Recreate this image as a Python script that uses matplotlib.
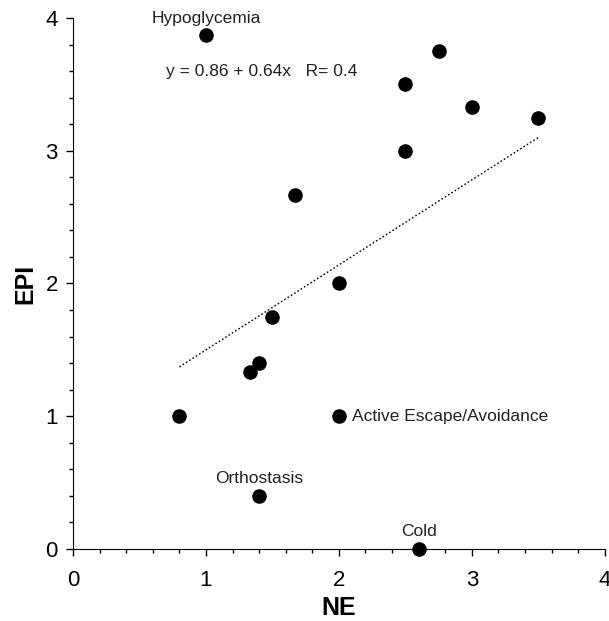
import numpy as np
import matplotlib.pyplot as plt
from matplotlib.ticker import MultipleLocator

plt.rcParams['font.family'] = ['Liberation Sans', 'DejaVu Sans']

# NE / EPI values
ne  = [1.0, 2.75, 2.5, 3.0, 3.5, 2.5, 1.67, 2.0, 1.5, 1.4, 1.33, 0.8, 2.0, 1.4, 2.6]
epi = [3.87, 3.75, 3.5, 3.33, 3.25, 3.0, 2.67, 2.0, 1.75, 1.4, 1.33, 1.0, 1.0, 0.4, 0.0]

fit_a, fit_b = 0.86, 0.64
fit_x = [0.8, 3.5]

fig = plt.figure(figsize=(6.09, 6.21), dpi=100)
ax = fig.add_axes([0.12, 0.116, 0.873, 0.855])

ax.scatter(ne, epi, s=90, color='black', zorder=3, clip_on=False)
fx = np.array(fit_x)
ax.plot(fx, fit_a + fit_b * fx, color='black', lw=1.0, ls=(0, (1.2, 1.6)))

txt = dict(fontsize=12.5, color='#222222')
ax.text(1.0, 4.0, 'Hypoglycemia', ha='center', va='center', **txt)
ax.text(0.7, 3.6, 'y = 0.86 + 0.64x   R= 0.4', ha='left', va='center', **txt)
ax.text(1.4, 0.53, 'Orthostasis', ha='center', va='center', **txt)
ax.text(2.1, 1.0, 'Active Escape/Avoidance', ha='left', va='center', **txt)
ax.text(2.6, 0.13, 'Cold', ha='center', va='center', **txt)

ax.set_xlim(0, 4)
ax.set_ylim(0, 4)
ax.xaxis.set_major_locator(MultipleLocator(1))
ax.yaxis.set_major_locator(MultipleLocator(1))
ax.xaxis.set_minor_locator(MultipleLocator(0.2))
ax.yaxis.set_minor_locator(MultipleLocator(0.2))
ax.tick_params(which='major', length=5, width=1, labelsize=16)
ax.tick_params(axis='x', which='major', pad=10)
ax.tick_params(axis='y', which='major', pad=6)
ax.tick_params(which='minor', length=3, width=1)
ax.spines['top'].set_visible(False)
ax.spines['right'].set_visible(False)

ax.set_xlabel('NE', fontsize=18, fontweight='bold', labelpad=4)
ax.set_ylabel('EPI', fontsize=18, fontweight='bold', labelpad=6)

fig.savefig('out.png')
